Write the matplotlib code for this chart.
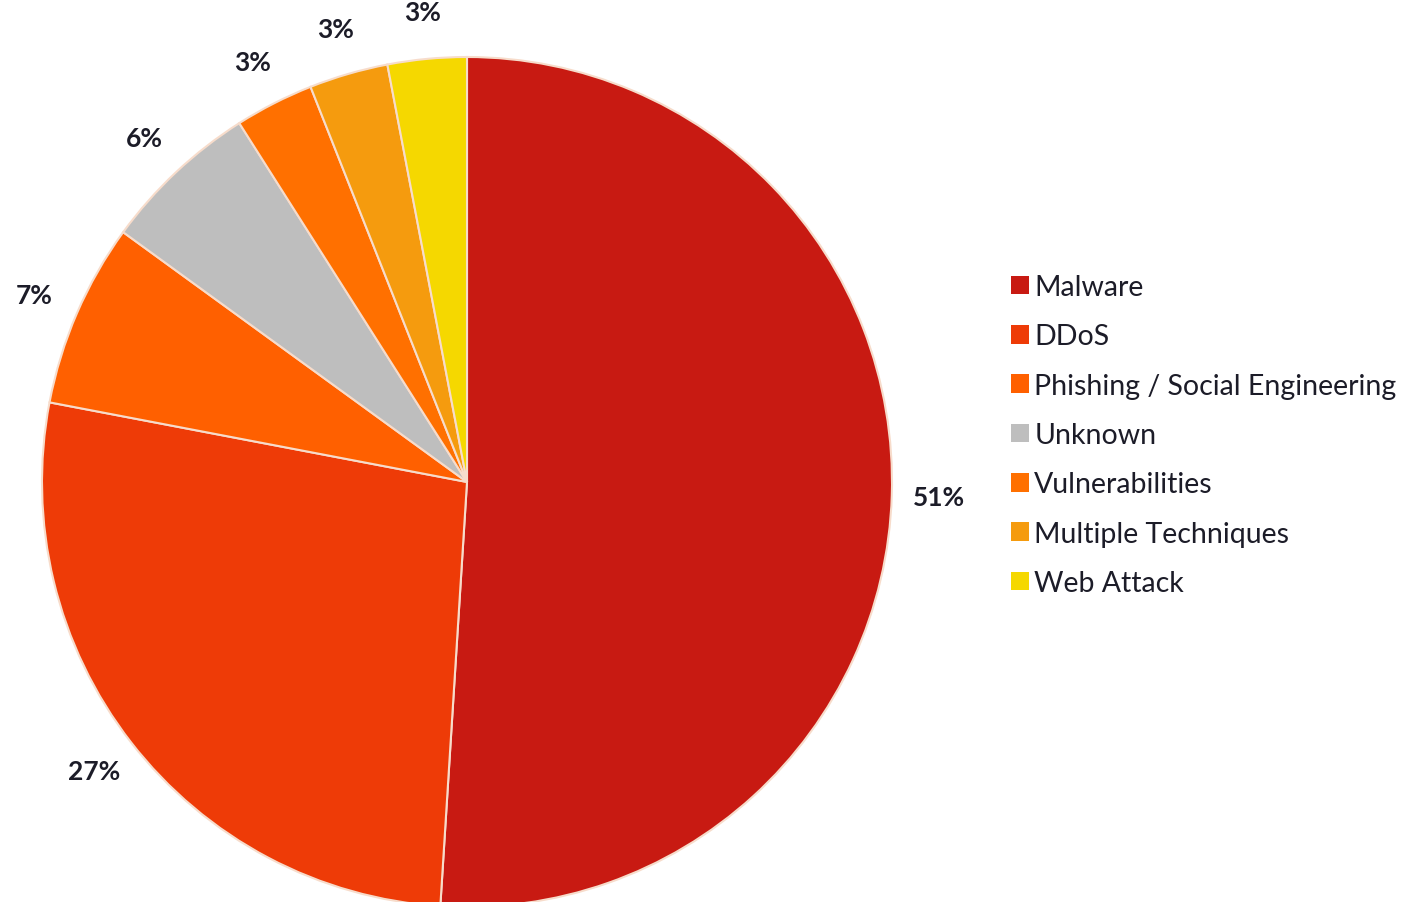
import matplotlib.pyplot as plt

categories = ['Malware', 'DDoS', 'Phishing / Social Engineering', 'Unknown',
              'Vulnerabilities', 'Multiple Techniques', 'Web Attack']
shares = [51, 27, 7, 6, 3, 3, 3]
colors = ['#C81A12', '#EE3B07', '#FF6000', '#BEBEBE', '#FF7000', '#F59B0E', '#F5D800']

fig = plt.figure(figsize=(14.19, 9.03), dpi=100)
ax = fig.add_axes([0, 0, 1, 1])

wedges, texts, pcts = ax.pie(
    shares, colors=colors, startangle=90, counterclock=False,
    center=(467, 420), radius=425,
    autopct='%d%%', pctdistance=1.11,
    wedgeprops=dict(edgecolor='#F7DCCB', linewidth=1.5),
    textprops=dict(fontsize=19, fontweight='bold', color='#1c1c28', family='Lato'))

# pie() resets the limits, so use pixel-sized data units afterwards
ax.set_xlim(0, 1419)
ax.set_ylim(0, 903)
ax.set_aspect('equal')
ax.axis('off')

leg = ax.legend(wedges, categories, loc='center left', bbox_to_anchor=(985 / 1419, 1 - 436 / 903),
                frameon=False, prop=dict(family='Lato', size=20.5),
                handlelength=0.63, handleheight=0.63, handletextpad=0.2, labelspacing=0.82,
                labelcolor='#1c1c28')
for p in leg.get_patches():
    p.set_edgecolor('none')

fig.savefig('out.png', dpi=100)
